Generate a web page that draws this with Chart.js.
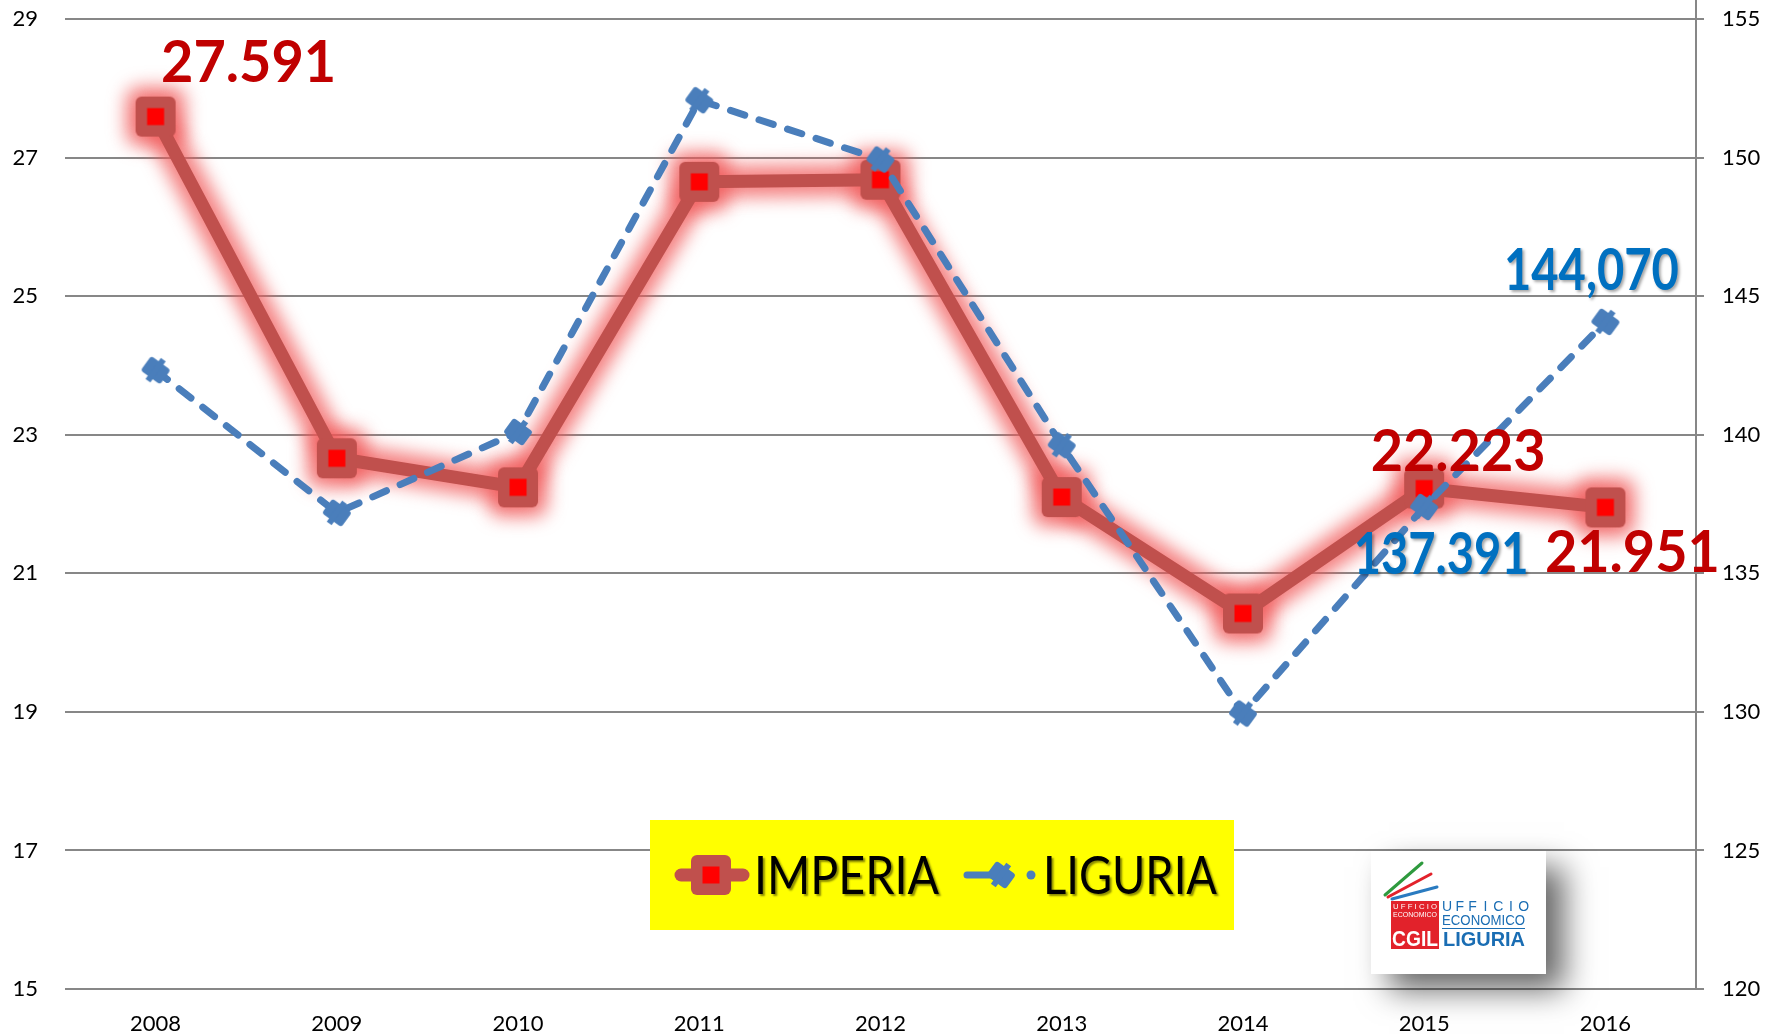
<!DOCTYPE html>
<html>
<head>
<meta charset="utf-8">
<script src="https://cdn.jsdelivr.net/npm/chart.js@4.4.0/dist/chart.umd.min.js"></script>
<style>
  html, body { margin: 0; padding: 0; background: #fff; }
  #wrap { width: 1779px; height: 1034px; }
</style>
</head>
<body>
<div id="wrap"><canvas id="chart" width="1779" height="1034"></canvas></div>
<script>
// --- data ---
const years = ['2008', '2009', '2010', '2011', '2012', '2013', '2014', '2015', '2016'];
const imperiaValues = [27.591, 22.66, 22.24, 26.65, 26.68, 22.10, 20.42, 22.223, 21.951];
const liguriaValues = [142.33, 137.18, 140.10, 152.07, 149.93, 139.62, 129.94, 137.391, 144.070];
const imperiaLabels = ['27.591', null, null, null, null, null, null, '22.223', '21.951'];
const liguriaLabels = [null, null, null, null, null, null, null, '137.391', '144,070'];
const leftTicks = [15, 17, 19, 21, 23, 25, 27, 29];
const rightTicks = [120, 125, 130, 135, 140, 145, 150, 155];

const RED_LINE = '#C0504D';
const BLUE_LINE = '#4A7EBB';
const GRID = '#878787';

function makeImperiaMarker() {
    const c = document.createElement('canvas');
    c.width = 42; c.height = 42;
    const g = c.getContext('2d');
    g.fillStyle = RED_LINE;
    g.beginPath();
    g.roundRect(1, 1, 40, 40, 6);
    g.fill();
    g.fillStyle = '#FF0000';
    g.fillRect(12.5, 12.5, 17, 17);
    return c;
}

function makeLiguriaMarker() {
    const c = document.createElement('canvas');
    c.width = 38; c.height = 38;
    const g = c.getContext('2d');
    g.translate(19, 19);
    g.rotate(Math.PI / 4 - 0.15);
    g.fillStyle = BLUE_LINE;
    g.beginPath();
    g.roundRect(-12, -9, 24, 18, 3);
    g.fill();
    g.fillRect(-3, -13, 6, 26);
    return c;
}

const imperiaMarker = makeImperiaMarker();
const liguriaMarker = makeLiguriaMarker();

// soft pink glow behind the IMPERIA series, following the library's point positions
const glowPlugin = {
    id: 'glow',
    beforeDatasetDraw(chart, args) {
        if (args.index !== 0) return;
        const ctx = chart.ctx;
        const pts = chart.getDatasetMeta(0).data;
        ctx.save();
        ctx.filter = 'blur(9px)';
        ctx.strokeStyle = 'rgba(240, 85, 85, 0.75)';
        ctx.fillStyle = 'rgba(240, 85, 85, 0.75)';
        ctx.lineWidth = 32;
        ctx.lineJoin = 'round';
        ctx.lineCap = 'round';
        ctx.beginPath();
        pts.forEach((p, i) => (i ? ctx.lineTo(p.x, p.y) : ctx.moveTo(p.x, p.y)));
        ctx.stroke();
        pts.forEach(p => {
            ctx.beginPath();
            ctx.roundRect(p.x - 30, p.y - 30, 60, 60, 14);
            ctx.fill();
        });
        ctx.restore();
    }
};

// value labels next to some points
const valueLabelPlugin = {
    id: 'valueLabels',
    afterDatasetsDraw(chart) {
        const ctx = chart.ctx;
        const offsets = {
            '0-0': [93, -53], '0-7': [34, -36], '0-8': [27, 46],
            '1-7': [17, 48], '1-8': [-14, -51]
        };
        const sets = [
            { labels: imperiaLabels, color: '#C00000', shadow: false },
            { labels: liguriaLabels, color: '#0070C0', shadow: true }
        ];
        ctx.save();
        ctx.font = 'bold 58px Lato, "Open Sans", sans-serif';
        ctx.textAlign = 'center';
        ctx.textBaseline = 'middle';
        sets.forEach((s, di) => {
            const meta = chart.getDatasetMeta(di);
            s.labels.forEach((txt, i) => {
                if (!txt) return;
                const pt = meta.data[i];
                const off = offsets[di + '-' + i] || [0, -45];
                ctx.save();
                if (s.shadow) {
                    ctx.shadowColor = 'rgba(0,0,0,0.35)';
                    ctx.shadowBlur = 3;
                    ctx.shadowOffsetX = 2;
                    ctx.shadowOffsetY = 2;
                }
                ctx.fillStyle = s.color;
                ctx.fillText(txt, pt.x + off[0], pt.y + off[1], 175);
                ctx.restore();
            });
        });
        ctx.restore();
    }
};

function drawLegend(ctx) {
    ctx.save();
    ctx.fillStyle = '#FFFF00';
    ctx.fillRect(650, 820, 584, 110);
    const cy = 875;

    // IMPERIA
    ctx.strokeStyle = RED_LINE;
    ctx.lineWidth = 13;
    ctx.lineCap = 'round';
    ctx.beginPath();
    ctx.moveTo(681, cy);
    ctx.lineTo(743, cy);
    ctx.stroke();
    ctx.drawImage(imperiaMarker, 711 - 21, cy - 21);

    // LIGURIA
    ctx.strokeStyle = BLUE_LINE;
    ctx.lineWidth = 7;
    ctx.beginPath();
    ctx.moveTo(967, cy);
    ctx.lineTo(990, cy);
    ctx.stroke();
    ctx.drawImage(liguriaMarker, 1001 - 19, cy - 19);
    ctx.fillStyle = BLUE_LINE;
    ctx.beginPath();
    ctx.arc(1031, cy, 4.5, 0, Math.PI * 2);
    ctx.fill();

    ctx.font = '52px Lato, "Open Sans", sans-serif';
    ctx.textBaseline = 'middle';
    ctx.textAlign = 'left';
    ctx.shadowColor = 'rgba(0,0,0,0.45)';
    ctx.shadowBlur = 2;
    ctx.shadowOffsetX = 2;
    ctx.shadowOffsetY = 2;
    ctx.fillStyle = '#000';
    ctx.fillText('IMPERIA', 754, cy + 2, 185);
    ctx.fillText('LIGURIA', 1043, cy + 2, 174);
    ctx.restore();
}

function drawLogo(ctx) {
    const x = 1371, y = 851, w = 175, h = 123;
    ctx.save();
    ctx.shadowColor = 'rgba(0,0,0,0.6)';
    ctx.shadowBlur = 30;
    ctx.shadowOffsetX = 18;
    ctx.shadowOffsetY = 16;
    ctx.fillStyle = '#fff';
    ctx.fillRect(x, y, w, h);
    ctx.restore();

    ctx.save();
    ctx.lineWidth = 3;
    ctx.lineCap = 'round';
    const stripes = [
        ['#2E9A3E', 1385, 895, 1422, 863],
        ['#E2222B', 1388, 897, 1431, 874],
        ['#2A7BC0', 1392, 899, 1437, 887]
    ];
    stripes.forEach(s => {
        ctx.strokeStyle = s[0];
        ctx.beginPath();
        ctx.moveTo(s[1], s[2]);
        ctx.lineTo(s[3], s[4]);
        ctx.stroke();
    });

    // red block
    ctx.fillStyle = '#E2222B';
    ctx.fillRect(1391, 901, 48, 48);
    ctx.fillStyle = '#fff';
    ctx.textAlign = 'center';
    ctx.textBaseline = 'middle';
    ctx.font = '8px "Liberation Sans", Arial, sans-serif';
    ctx.fillText('U F F I C I O', 1415, 907, 44);
    ctx.fillText('ECONOMICO', 1415, 915, 44);
    ctx.font = 'bold 22px "Liberation Sans", Arial, sans-serif';
    ctx.fillText('CGIL', 1415, 940, 46);

    // blue text
    ctx.fillStyle = '#1A6DB3';
    ctx.font = '14px "Liberation Sans", Arial, sans-serif';
    const letters = 'UFFICIO'.split('');
    letters.forEach((ch, i) => {
        ctx.fillText(ch, 1447 + i * 12.8, 907);
    });
    ctx.font = '15px "Liberation Sans", Arial, sans-serif';
    ctx.fillText('ECONOMICO', 1483.5, 921, 83);
    ctx.fillRect(1442, 928, 83, 1);
    ctx.font = 'bold 21px "Liberation Sans", Arial, sans-serif';
    ctx.fillText('LIGURIA', 1484, 940, 82);
    ctx.restore();
}

const overlayPlugin = {
    id: 'overlay',
    beforeDatasetsDraw(chart) {
        // right axis line runs up to the top edge
        const ctx = chart.ctx;
        const a = chart.chartArea;
        ctx.save();
        ctx.strokeStyle = GRID;
        ctx.lineWidth = 2;
        ctx.beginPath();
        ctx.moveTo(Math.round(a.right), 0);
        ctx.lineTo(Math.round(a.right), a.top);
        ctx.stroke();
        ctx.restore();
    },
    afterDraw(chart) {
        drawLegend(chart.ctx);
        drawLogo(chart.ctx);
    }
};

const tickFont = { family: 'Lato, "Open Sans", sans-serif', size: 22 };

// tick padding would otherwise push the plot area down
function fixVertical(width) {
    return function (scale) {
        scale.width = width;
        scale.paddingTop = 12;
        scale.paddingBottom = 12;
    };
}

new Chart(document.getElementById('chart'), {
    type: 'line',
    data: {
        labels: years,
        datasets: [
            {
                label: 'IMPERIA',
                data: imperiaValues,
                yAxisID: 'y',
                borderColor: RED_LINE,
                borderWidth: 13,
                borderJoinStyle: 'round',
                pointStyle: imperiaMarker,
                pointRadius: 21,
                tension: 0,
                clip: false,
                order: 2
            },
            {
                label: 'LIGURIA',
                data: liguriaValues,
                yAxisID: 'y1',
                borderColor: BLUE_LINE,
                borderWidth: 7,
                borderDash: [15, 15],
                borderCapStyle: 'round',
                pointStyle: liguriaMarker,
                pointRadius: 19,
                tension: 0,
                clip: false,
                order: 1
            }
        ]
    },
    options: {
        responsive: false,
        animation: false,
        events: [],
        layout: { autoPadding: false, padding: { top: 19, left: 0, right: 0, bottom: 0 } },
        plugins: {
            legend: { display: false },
            tooltip: { enabled: false }
        },
        scales: {
            x: {
                offset: true,
                grid: { display: false, drawTicks: false },
                border: { display: false },
                ticks: { color: '#000', font: tickFont, padding: 22, maxRotation: 0 },
                afterFit(scale) { scale.height = 45; }
            },
            y: {
                position: 'left',
                min: 15,
                max: 29,
                afterBuildTicks(scale) { scale.ticks = leftTicks.map(v => ({ value: v })); },
                grid: { color: GRID, lineWidth: 2, drawTicks: false },
                border: { display: false },
                ticks: { color: '#000', font: tickFont, padding: 27 },
                afterFit: fixVertical(65)
            },
            y1: {
                position: 'right',
                min: 120,
                max: 155,
                afterBuildTicks(scale) { scale.ticks = rightTicks.map(v => ({ value: v })); },
                grid: { drawOnChartArea: false, color: GRID, lineWidth: 2, drawTicks: true, tickLength: 8 },
                border: { display: true, color: GRID, width: 2 },
                ticks: { color: '#000', font: tickFont, padding: 18 },
                afterFit: fixVertical(83)
            }
        }
    },
    plugins: [glowPlugin, valueLabelPlugin, overlayPlugin]
});
</script>
</body>
</html>
